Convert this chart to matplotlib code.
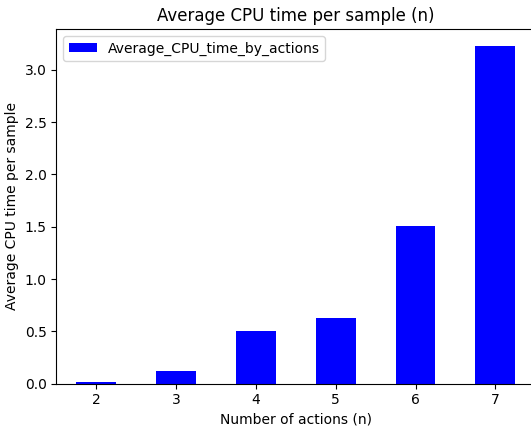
import matplotlib
matplotlib.use('Agg')
import matplotlib.pyplot as plt
import pandas as pd

actions = [2, 3, 4, 5, 6, 7]
avg_cpu_time = [0.02, 0.12, 0.50, 0.63, 1.51, 3.23]

df = pd.DataFrame({'Average_CPU_time_by_actions': avg_cpu_time}, index=actions)

fig, ax = plt.subplots(figsize=(5.31, 4.32), dpi=100)
df.plot.bar(ax=ax, color='blue', rot=0)
ax.set_xlabel('Number of actions (n)')
ax.set_ylabel('Average CPU time per sample')
ax.set_title('Average CPU time per sample (n)')
ax.legend(loc='upper left')
# the original is cut off on the right, so the axes runs past the edge
fig.subplots_adjust(left=0.106, right=1.008, top=0.933, bottom=0.112)
plt.savefig('out.png')
